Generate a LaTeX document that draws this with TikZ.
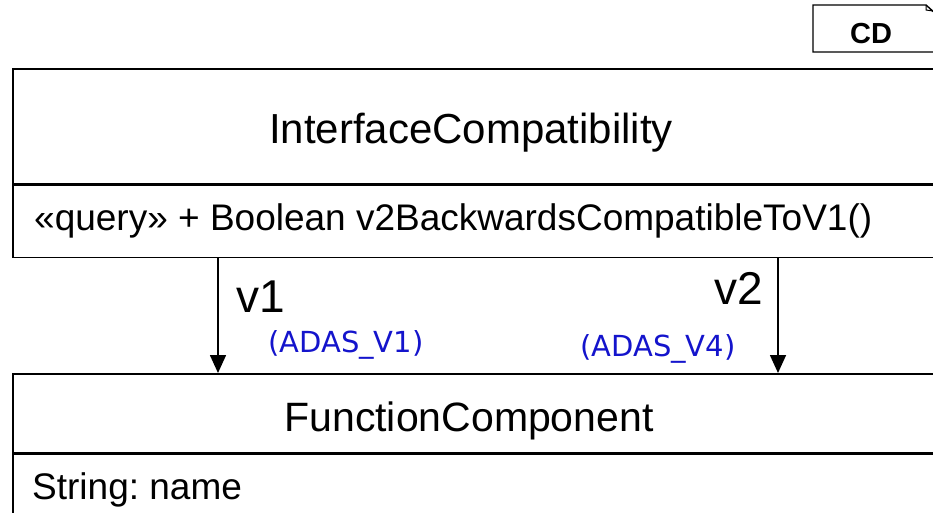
\documentclass[tikz,border=0pt]{standalone}
\usepackage{fontspec}
\setmainfont{Liberation Sans}
\newfontfamily\notefont{DejaVu Sans}
\usetikzlibrary{arrows.meta}
\definecolor{noteblue}{HTML}{1414CC}
\frenchspacing

\tikzset{
    compart/.style={draw, line width=1.6pt, anchor=north west,
        minimum width=928pt, inner sep=0pt},
    classname/.style={anchor=base, inner sep=0pt,
        font=\fontsize{42}{48}\selectfont},
    member/.style={anchor=base west, inner sep=0pt},
    rolename/.style={inner sep=0pt, font=\fontsize{46}{52}\selectfont},
    endnote/.style={anchor=base west, inner sep=0pt, text=noteblue,
        font=\notefont\fontsize{29}{34}\selectfont},
    assoc/.style={line width=1.6pt, -{Triangle[width=16pt,length=18pt]}}
}

\begin{document}
\begin{tikzpicture}[x=1pt, y=-1pt]

\useasboundingbox (0,0) rectangle (933,512);
\clip (0,0) rectangle (933,512);

% --- DIAGRAM FRAME TAG ---
\draw[line width=1.4pt] (936,52) -- (813,52) -- (813,5) -- (926,5) -- (936,14);
\draw[line width=1pt] (926,5) -- (926,10) -- (933,11);
\node[anchor=base, inner sep=0pt, font=\bfseries\fontsize{29}{34}\selectfont]
    (cdtag) at (871,43) {CD};

% --- CLASS: InterfaceCompatibility ---
\node[compart, minimum height=115pt] (icname) at (12,68) {};
\node[compart, minimum height=72pt] (icops) at (icname.south west) {};
\node[classname] (ictitle) at (471,143) {InterfaceCompatibility};
\node[member, font=\fontsize{37}{43}\selectfont] (icquery) at (34,230)
    {«query» + Boolean v2BackwardsCompatibleToV1()};

% --- CLASS: FunctionComponent ---
\node[compart, minimum height=79pt] (fcname) at (12,373) {};
\node[compart, minimum height=60pt] (fcattr) at (fcname.south west) {};
\node[classname, font=\fontsize{41}{47}\selectfont] (fctitle) at (469,431)
    {FunctionComponent};
\node[member, font=\fontsize{37}{43}\selectfont] (fcstring) at (32,499)
    {String: name};

% --- ASSOCIATIONS ---
\coordinate (vonex) at (218,0);
\coordinate (vtwox) at (778,0);
\draw[assoc] (vonex |- icops.south) -- (vonex |- fcname.north);
\draw[assoc] (vtwox |- icops.south) -- (vtwox |- fcname.north);

% role names and notes
\node[rolename, anchor=base west] (vone) at (236,312) {v1};
\node[rolename, anchor=base east] (vtwo) at (763,304) {v2};
\node[endnote] (adasone) at (268,352) {(ADAS\_V1)};
\node[endnote] (adasfour) at (580,356) {(ADAS\_V4)};

\end{tikzpicture}
\end{document}
